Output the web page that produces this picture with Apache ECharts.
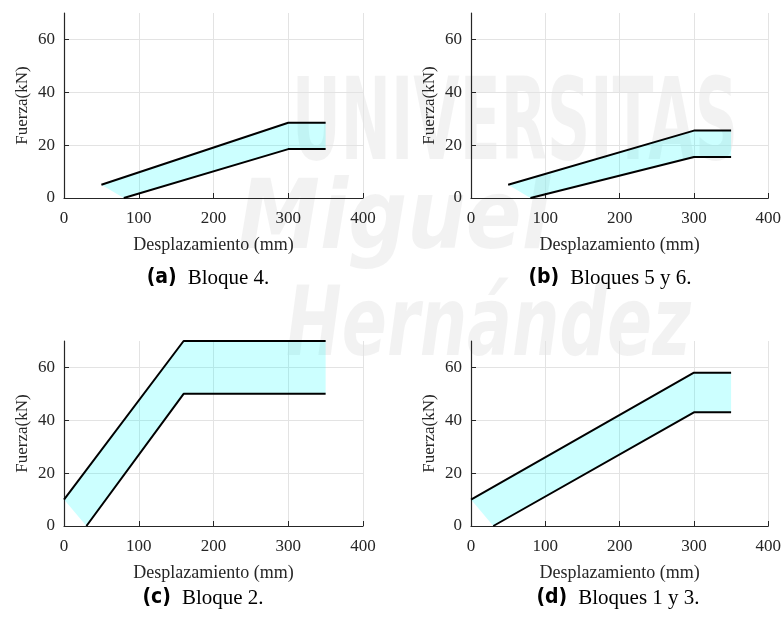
<!DOCTYPE html>
<html>
<head>
<meta charset="utf-8">
<script src="https://cdn.jsdelivr.net/npm/echarts@6/dist/echarts.min.js"></script>
<style>html,body{margin:0;padding:0;background:#fff;}#main{width:784px;height:621px;}</style>
</head>
<body>
<div id="main"></div>
<script>
// ---- data (Desplazamiento mm, Fuerza kN) ----
const xTicks = [0, 100, 200, 300, 400];
const yTicks = [0, 20, 40, 60];

const upperA = [[50, 5], [300, 28.5], [350, 28.5]];
const lowerA = [[80, 0], [300, 18.5], [350, 18.5]];

const upperB = [[50, 5], [300, 25.5], [350, 25.5]];
const lowerB = [[80, 0], [300, 15.5], [350, 15.5]];

const upperC = [[0, 10], [160, 70], [350, 70]];
const lowerC = [[30, 0], [160, 50], [350, 50]];

const upperD = [[0, 10], [300, 58], [350, 58]];
const lowerD = [[30, 0], [300, 43], [350, 43]];

const captionTags = ['(a)', '(b)', '(c)', '(d)'];
const captionTexts = ['Bloque 4.', 'Bloques 5 y 6.', 'Bloque 2.', 'Bloques 1 y 3.'];

const xName = 'Desplazamiento (mm)';
const yName = 'Fuerza(kN)';

const watermarkWords = ['UNIVERSITAS', 'Miguel', 'Hernández'];

const panels = [
  {upper: upperA, lower: lowerA},
  {upper: upperB, lower: lowerB},
  {upper: upperC, lower: lowerC},
  {upper: upperD, lower: lowerD}
];

// ---- layout ----
const gridPos = [
  {left: 64, top: 13, width: 299, height: 185},
  {left: 471, top: 13, width: 298, height: 185},
  {left: 64, top: 341, width: 299, height: 185},
  {left: 471, top: 341, width: 298, height: 185}
];
const captionPos = [[208, 278], [610, 278], [203, 598], [618, 598]];

const serif = '"Liberation Serif", "Times New Roman", serif';
const condSans = '"DejaVu Sans Condensed", "DejaVu Sans", sans-serif';
const axisColor = '#262626';

const grids = [], xAxes = [], yAxes = [], series = [], graphics = [];

panels.forEach((p, i) => {
  grids.push(Object.assign({containLabel: false}, gridPos[i]));
  xAxes.push({
    type: 'value', gridIndex: i, min: 0, max: 400, interval: 100,
    name: xName, nameLocation: 'middle', nameGap: 38,
    nameTextStyle: {fontFamily: serif, fontSize: 18, color: axisColor},
    axisLine: {onZero: false, lineStyle: {color: axisColor, width: 1.2}},
    axisTick: {inside: true, length: 5, lineStyle: {color: axisColor}},
    axisLabel: {fontFamily: serif, fontSize: 17, color: axisColor, margin: 12},
    splitLine: {show: true, lineStyle: {color: '#e3e3e3', width: 1}}
  });
  yAxes.push({
    type: 'value', gridIndex: i, min: 0, max: 70, interval: 20,
    name: yName, nameLocation: 'middle', nameGap: 33,
    nameTextStyle: {fontFamily: serif, fontSize: 17, color: axisColor},
    axisLine: {onZero: false, lineStyle: {color: axisColor, width: 1.2}},
    axisTick: {inside: true, length: 5, lineStyle: {color: axisColor}, customValues: yTicks},
    axisLabel: {fontFamily: serif, fontSize: 17, color: axisColor, margin: 9, customValues: yTicks},
    splitLine: {show: true, lineStyle: {color: '#e3e3e3', width: 1}}
  });
  const up = p.upper, lo = p.lower;
  series.push({
    type: 'custom', xAxisIndex: i, yAxisIndex: i, silent: true, z: 1,
    data: [[up[0][0], up[0][1]]],
    renderItem: function (params, api) {
      const pts = up.concat(lo.slice().reverse()).map(d => api.coord(d));
      return {type: 'polygon', shape: {points: pts}, style: {fill: 'rgba(0,255,255,0.2)', stroke: null}};
    }
  });
  series.push({
    type: 'line', xAxisIndex: i, yAxisIndex: i, data: up, symbol: 'none', silent: true, z: 3,
    lineStyle: {color: '#000', width: 2}
  });
  series.push({
    type: 'line', xAxisIndex: i, yAxisIndex: i, data: lo, symbol: 'none', silent: true, z: 3,
    lineStyle: {color: '#000', width: 2}
  });
  graphics.push({
    type: 'text', x: captionPos[i][0], y: captionPos[i][1], z: 10,
    style: {
      text: '{t|' + captionTags[i] + '}{c|' + captionTexts[i] + '}',
      align: 'center', verticalAlign: 'middle',
      rich: {
        t: {fontFamily: condSans, fontWeight: 'bold', fontSize: 21, fill: '#000', padding: [0, 11, 0, 0]},
        c: {fontFamily: serif, fontSize: 21, fill: '#000'}
      }
    }
  });
});

// faint background watermark, each word stretched to its box
const ctx = document.createElement('canvas').getContext('2d');
function wmText(word, bold, italic, size, left, top, width) {
  const fam = bold && !italic ? '"DejaVu Sans Condensed"' : '"DejaVu Sans"';
  ctx.font = (italic ? 'italic ' : '') + (bold ? 'bold ' : '') + size + 'px ' + fam;
  const w = ctx.measureText(word).width || 1;
  return {
    type: 'text', x: left, y: top, z: -10, scaleX: width / w, silent: true,
    style: {
      text: word, fontFamily: fam,
      fontWeight: bold ? 'bold' : 'normal',
      fontStyle: italic ? 'italic' : 'normal',
      fontSize: size, fill: 'rgba(0,0,0,0.05)', verticalAlign: 'top', align: 'left'
    }
  };
}
graphics.unshift(
  wmText(watermarkWords[0], true, false, 114, 292, 72, 446),
  wmText(watermarkWords[1], true, true, 96, 238, 175, 312),
  wmText(watermarkWords[2], true, true, 96, 286, 282, 405)
);

const chart = echarts.init(document.getElementById('main'), null, {renderer: 'canvas'});
chart.setOption({
  animation: false,
  backgroundColor: '#fff',
  grid: grids, xAxis: xAxes, yAxis: yAxes, series: series,
  graphic: graphics
});
</script>
</body>
</html>
